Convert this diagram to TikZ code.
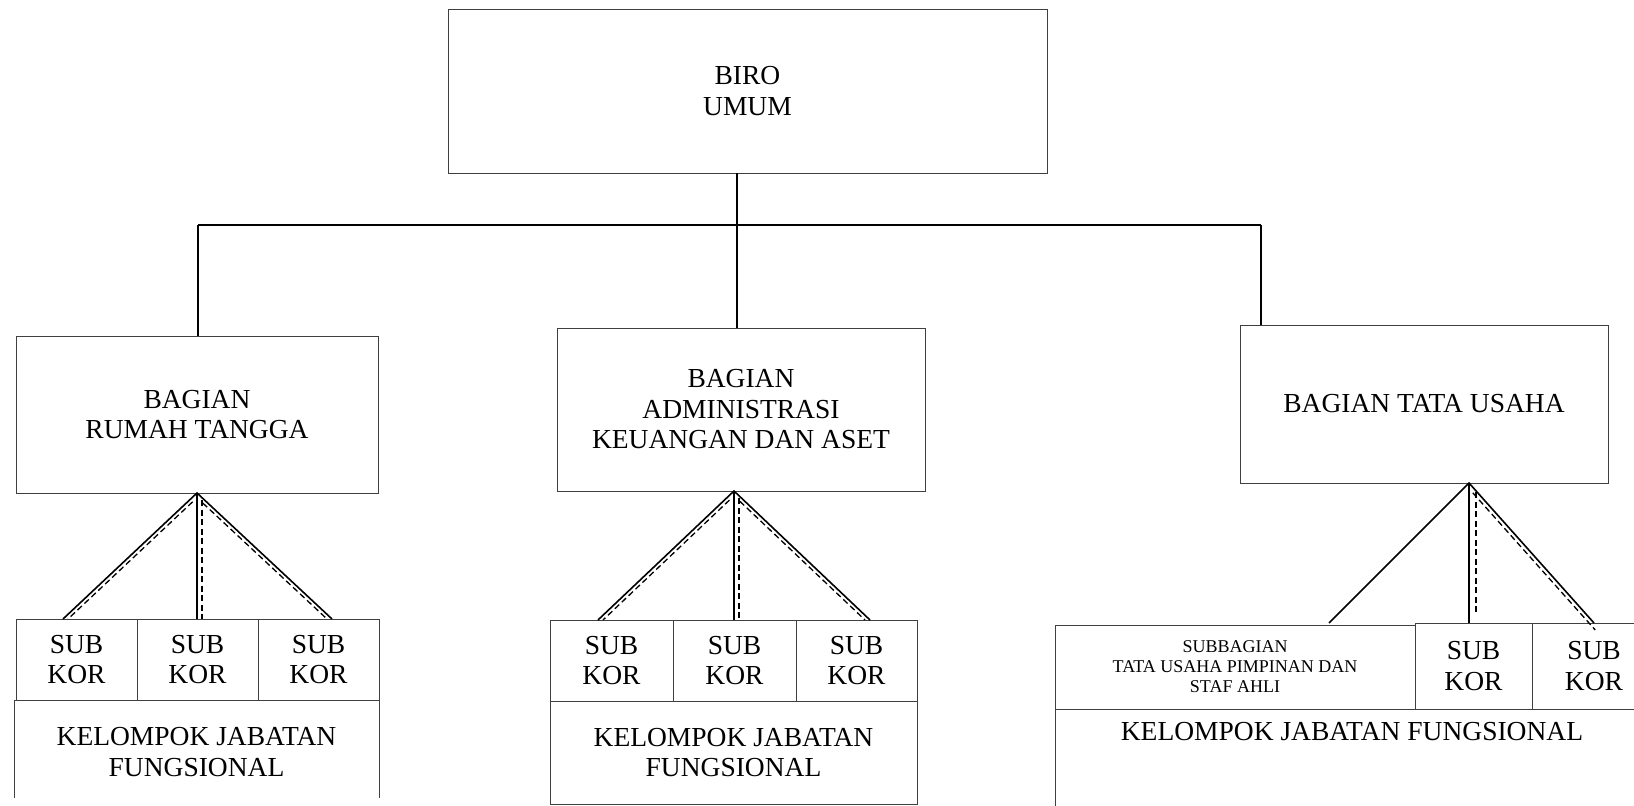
\documentclass[tikz,border=0pt]{standalone}
\usepackage{fontspec}
\setmainfont{Liberation Serif}
\usetikzlibrary{calc}
\begin{document}
\begin{tikzpicture}[x=1pt,y=-1pt,
  unit/.style={draw=black!75, line width=0.9pt, inner sep=0pt, outer sep=0pt,
    align=center, font=\fontsize{27.5}{30.5}\selectfont},
  smallunit/.style={unit, font=\fontsize{18}{20}\selectfont},
  boxline/.style={draw=black!75, line width=0.9pt},
  link/.style={line width=1.6pt, black},
  dlink/.style={line width=1.3pt, black, dash pattern=on 6pt off 3.5pt},
]
\useasboundingbox (0,0) rectangle (1634,806);
\clip (0,0) rectangle (1634,806);

% top unit
\node[unit, minimum width=599pt, minimum height=164pt] (biro) at (747.5,91) {BIRO\\UMUM};

% second level
\node[unit, minimum width=362pt, minimum height=157pt] (rt) at (197,414.5) {BAGIAN\\RUMAH TANGGA};
\node[unit, minimum width=368pt, minimum height=163pt] (ak) at (741,409.5) {BAGIAN\\ADMINISTRASI\\KEUANGAN DAN ASET};
\node[unit, minimum width=368pt, minimum height=158pt] (tu) at (1424,404) {BAGIAN TATA USAHA};

% left group
\node[unit, minimum width=121pt, minimum height=81pt] (rt1) at (76.5,659.5) {SUB\\KOR};
\node[unit, minimum width=121pt, minimum height=81pt] (rt2) at (197.5,659.5) {SUB\\KOR};
\node[unit, minimum width=121pt, minimum height=81pt] (rt3) at (318.5,659.5) {SUB\\KOR};
\node[unit, draw=none, minimum width=365pt, minimum height=104pt] (rtk) at (196.5,752) {KELOMPOK JABATAN\\FUNGSIONAL};
\draw[boxline] ($(rtk.south west)+(0,-6)$) -- (rtk.north west) -- (rtk.north east) -- ($(rtk.south east)+(0,-6)$);

% middle group
\node[unit, minimum width=123pt, minimum height=81pt] (ak1) at (611.5,660.5) {SUB\\KOR};
\node[unit, minimum width=123pt, minimum height=81pt] (ak2) at (734.5,660.5) {SUB\\KOR};
\node[unit, minimum width=121pt, minimum height=81pt] (ak3) at (856.5,660.5) {SUB\\KOR};
\node[unit, minimum width=367pt, minimum height=103pt] (akk) at (733.5,752.5) {KELOMPOK JABATAN\\FUNGSIONAL};

% right group
\node[smallunit, minimum width=360pt, minimum height=84pt] (tu0) at (1235,667) {SUBBAGIAN\\TATA USAHA PIMPINAN DAN\\STAF AHLI};
\node[unit, minimum width=117pt, minimum height=86pt] (tu1) at (1473.5,666) {SUB\\KOR};
\node[unit, minimum width=124pt, minimum height=86pt] (tu2) at (1594,666) {SUB\\KOR};
\node[unit, draw=none, minimum width=594pt, minimum height=46pt] (tuk) at (1352,732) {KELOMPOK JABATAN FUNGSIONAL};
\draw[boxline] ($(tuk.south west)+(0,60)$) -- (tuk.north west) -- (tuk.north east);

% main tree
\coordinate (jc) at (737,225);
\coordinate (jl) at (198,225);
\coordinate (jr) at (1261,225);
\draw[link] (biro.south -| jc) -- (ak.north -| jc);
\draw[link] (jl) -- (jr);
\draw[link] (jl) -- (rt.north -| jl);
\draw[link] (jr) -- (tu.north -| jr);

% left fan
\coordinate (rtA) at (197,493);
\coordinate (rtL) at (63,619);
\coordinate (rtM) at (197,619);
\coordinate (rtR) at (332,619);
\draw[link] (rtL) -- (rtA) -- (rtR);
\draw[link] (rtA) -- (rtM);
\draw[dlink] ($(rtA)!0.07!(rtL)+(5,0)$) -- ($(rtL)+(5,0)$);
\draw[dlink] ($(rtA)+(5,7)$) -- ($(rtM)+(5,0)$);
\draw[dlink] ($(rtA)!0.08!(rtR)+(-5,0)$) -- ($(rtR)+(-5,0)$);

% middle fan
\coordinate (akA) at (734,491);
\coordinate (akL) at (598,620);
\coordinate (akM) at (734,620);
\coordinate (akR) at (870,620);
\draw[link] (akL) -- (akA) -- (akR);
\draw[link] (akA) -- (akM);
\draw[dlink] ($(akA)!0.07!(akL)+(5,0)$) -- ($(akL)+(5,0)$);
\draw[dlink] ($(akA)+(5,7)$) -- ($(akM)+(5,0)$);
\draw[dlink] ($(akA)!0.08!(akR)+(-5,0)$) -- ($(akR)+(-5,0)$);

% right fan
\coordinate (tuA) at (1469,483);
\coordinate (tuL) at (1329,623);
\coordinate (tuM) at (1469,623);
\coordinate (tuR) at (1594,623);
\draw[link] (tuL) -- (tuA) -- (tuR);
\draw[link] (tuA) -- (tuM);
\draw[dlink] ($(tuA)+(7,9)$) -- (1476,615);
\draw[dlink] ($(tuA)!0.07!(tuR)+(-5,0)$) -- ($(tuA)!1.05!(tuR)+(-5,0)$);
\end{tikzpicture}
\end{document}
